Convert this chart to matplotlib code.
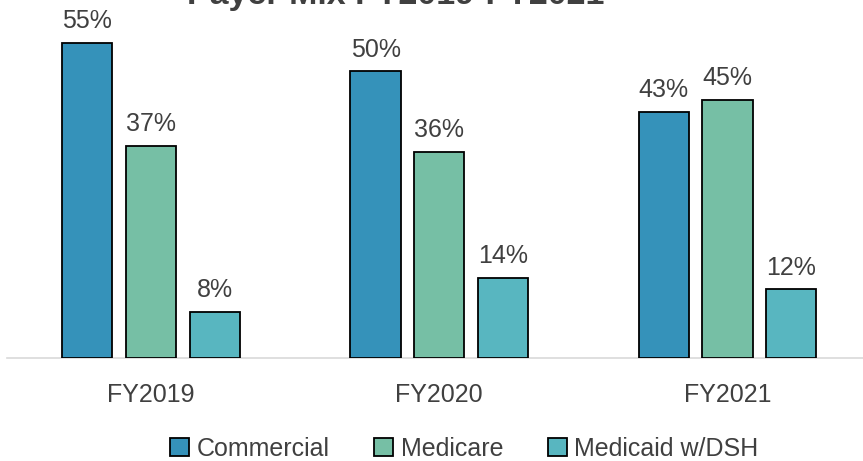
import matplotlib.pyplot as plt
import numpy as np

years = ["FY2019", "FY2020", "FY2021"]
payers = ["Commercial", "Medicare", "Medicaid w/DSH"]
commercial = [55, 50, 43]
medicare = [37, 36, 45]
medicaid = [8, 14, 12]
colors = ["#3592BA", "#76BFA5", "#58B6C0"]
text_color = "#404040"

plt.rcParams['font.family'] = ['Liberation Sans', 'DejaVu Sans']

fig = plt.figure(figsize=(8.63, 4.61), dpi=100)
ax = fig.add_axes([0.008, 0.2234, 0.992, 0.746])

x = np.arange(len(years))
width = 0.174
step = 0.221
series = [commercial, medicare, medicaid]
for i, (vals, name, c) in enumerate(zip(series, payers, colors)):
    bars = ax.bar(x + (i - 1) * step, vals, width, color=c, edgecolor="black",
                  linewidth=1.3, label=name, zorder=3)
    for b, v in zip(bars, vals):
        ax.annotate("%d%%" % v, (b.get_x() + b.get_width() / 2, v),
                    xytext=(0, 7), textcoords="offset points",
                    ha="center", va="bottom", fontsize=18, color=text_color)

ax.set_xlim(-0.5, 2.47)
ax.set_ylim(0, 60)
ax.set_yticks([])
ax.set_xticks(x)
ax.set_xticklabels(years, fontsize=18, color=text_color)
ax.tick_params(axis="x", length=0, pad=18)
for s in ["top", "right", "left"]:
    ax.spines[s].set_visible(False)
ax.spines["bottom"].set_color("#D9D9D9")
ax.spines["bottom"].set_linewidth(1.2)

fig.text(0.459, 1 - 4 / 461, "Payer Mix FY2019-FY2021", ha="center", va="baseline",
         fontsize=24.5, fontweight="bold", color=text_color)

leg = fig.legend(loc="center", bbox_to_anchor=(0.538, 0.026), ncol=3, frameon=False,
                 fontsize=18, handlelength=0.75, handleheight=0.75, handletextpad=0.3,
                 columnspacing=1.8)
for t in leg.get_texts():
    t.set_color(text_color)

fig.savefig("out.png", dpi=100)
